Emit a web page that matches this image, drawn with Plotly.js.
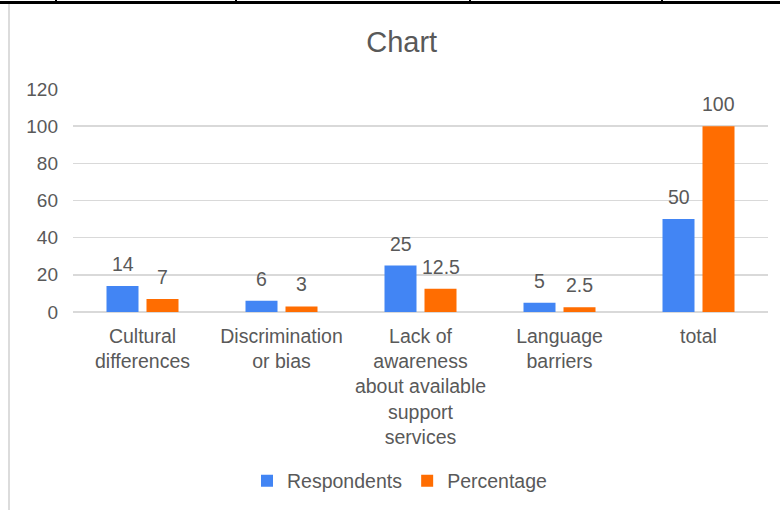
<!DOCTYPE html>
<html>
<head>
<meta charset="utf-8">
<script src="https://cdn.plot.ly/plotly-3.0.1.min.js"></script>
<style>
  html, body { margin: 0; padding: 0; background: #ffffff; }
  #wrap { position: relative; width: 780px; height: 510px; overflow: hidden; }
  #chart { position: absolute; left: 0; top: 0; width: 780px; height: 510px; }
  .rule { position: absolute; background: #000000; }
  .frame { position: absolute; left: 8px; top: 4px; width: 2px; height: 506px; background: #dcdcdc; }
</style>
</head>
<body>
<div id="wrap">
  <div id="chart"></div>
  <!-- sheet cell borders above the chart box -->
  <div class="rule" style="left:0;top:1px;width:780px;height:3px;"></div>
  <div class="rule" style="left:55px;top:0;width:2px;height:3px;"></div>
  <div class="rule" style="left:235px;top:0;width:2px;height:3px;"></div>
  <div class="rule" style="left:469px;top:0;width:2px;height:3px;"></div>
  <div class="rule" style="left:661px;top:0;width:2px;height:3px;"></div>
  <div class="frame"></div>
</div>
<script>
// Survey results: barriers reported by respondents
const categories = [
  "Cultural<br>differences",
  "Discrimination<br>or bias",
  "Lack of<br>awareness<br>about available<br>support<br>services",
  "Language<br>barriers",
  "total"
];
const respondents = [14, 6, 25, 5, 50];
const percentage = [7, 3, 12.5, 2.5, 100];
const seriesNames = ["Respondents", "Percentage"];
const yTicks = [0, 20, 40, 60, 80, 100, 120];

const FONT = "Liberation Sans, Arial, sans-serif";
const TEXT = "#595959";
const GRID = "#d9d9d9";
const COLORS = ["#4285f4", "#ff6d01"];

const series = [respondents, percentage];

const traces = series.map((vals, i) => ({
  type: "bar",
  name: seriesNames[i],
  x: categories,
  y: vals,
  marker: { color: COLORS[i] },
  hoverinfo: "x+y+name"
}));

// value labels above each bar
const annotations = [];
series.forEach((vals, i) => {
  vals.forEach((v, j) => {
    annotations.push({
      x: categories[j],
      y: v,
      xref: "x",
      yref: "y",
      text: String(v),
      showarrow: false,
      xanchor: "center",
      yanchor: "bottom",
      xshift: i === 0 ? -20 : 20,
      yshift: 9,
      font: { family: FONT, size: 19.5, color: TEXT }
    });
  });
});

const layout = {
  width: 780,
  height: 510,
  margin: { l: 73, r: 12, t: 89, b: 198 },
  paper_bgcolor: "#ffffff",
  plot_bgcolor: "#ffffff",
  font: { family: FONT, color: TEXT, size: 19 },
  title: {
    text: "Chart",
    font: { family: FONT, size: 29, color: TEXT },
    x: 0.515,
    xanchor: "center",
    y: 1 - 42 / 510,
    yanchor: "middle"
  },
  barmode: "group",
  bargap: 0.4245,
  bargroupgap: 0.2,
  xaxis: {
    type: "category",
    showgrid: false,
    zeroline: false,
    showline: false,
    ticks: "",
    tickangle: 0,
    ticklabelstandoff: 10,
    tickfont: { family: FONT, size: 19.5, color: TEXT },
    fixedrange: true
  },
  yaxis: {
    range: [0, 120],
    tickvals: yTicks,
    ticktext: yTicks.map(String),
    showgrid: true,
    gridcolor: GRID,
    gridwidth: 1.5,
    zeroline: true,
    zerolinecolor: GRID,
    zerolinewidth: 1.5,
    showline: false,
    ticks: "",
    ticklabelstandoff: 14,
    tickfont: { family: FONT, size: 19, color: TEXT },
    fixedrange: true
  },
  showlegend: true,
  legend: {
    orientation: "h",
    xref: "container",
    yref: "container",
    x: 247 / 780,
    xanchor: "left",
    y: 1 - 481 / 510,
    yanchor: "middle",
    font: { family: FONT, size: 19.5, color: TEXT },
    itemwidth: 30,
    traceorder: "normal"
  },
  annotations: annotations
};

Plotly.newPlot("chart", traces, layout, { displayModeBar: false, staticPlot: true });
</script>
</body>
</html>
